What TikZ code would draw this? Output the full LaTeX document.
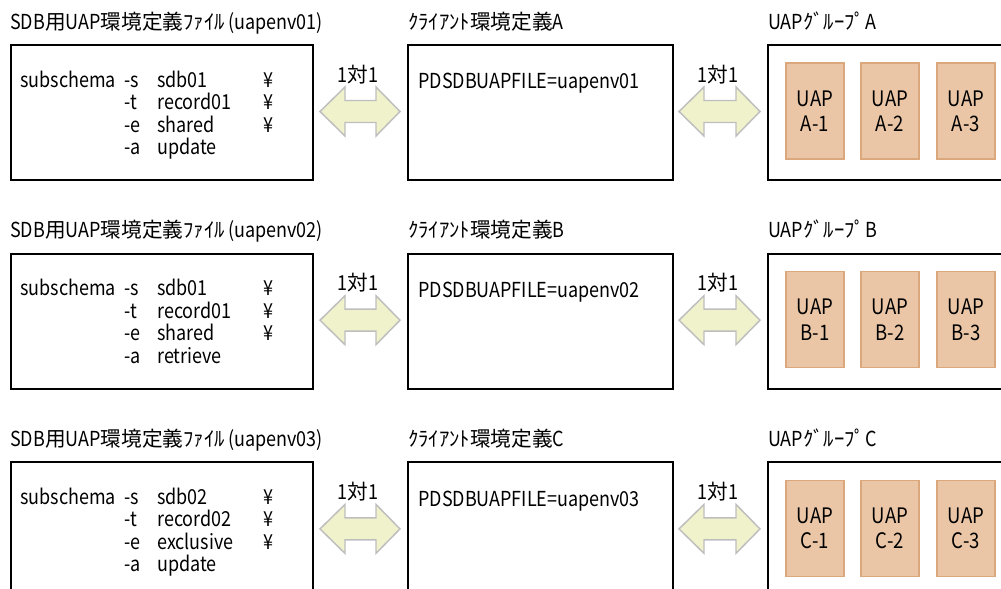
\documentclass[tikz,border=0pt]{standalone}
\usepackage{fontspec}
\setmainfont{Noto Sans CJK JP}
\newfontfamily\lat{Noto Sans CJK JP}[FakeStretch=0.87]
\definecolor{arrowfill}{RGB}{240,242,204}
\definecolor{arrowline}{RGB}{190,190,190}
\definecolor{uapfill}{RGB}{234,198,166}
\definecolor{uapline}{RGB}{218,168,124}
\newcommand\dblarrow[3]{%
  \draw[fat] (#1,#3) -- ({#1+25},{#3-24.5}) -- ({#1+25},{#3-11}) -- ({#2-24},{#3-11}) -- ({#2-24},{#3-24.5}) -- (#2,#3) -- ({#2-24},{#3+24.5}) -- ({#2-24},{#3+11}) -- ({#1+25},{#3+11}) -- ({#1+25},{#3+24.5}) -- cycle;}
\begin{document}
\begin{tikzpicture}[x=0.75pt,y=-0.75pt,
  txt/.style={anchor=base west, inner sep=0pt, font=\fontsize{15.5}{18}\selectfont},
  code/.style={anchor=base west, inner sep=0pt, font=\fontsize{15.5}{18}\selectfont\lat},
  lbl/.style={anchor=base, inner sep=0pt, font=\fontsize{15.5}{18}\selectfont},
  frame/.style={draw=black, line width=1.5pt, anchor=north west, minimum height=101.25pt},
  fat/.style={draw=arrowline, fill=arrowfill, line width=1.1pt, line join=miter},
  uap/.style={draw=uapline, fill=uapfill, line width=1.1pt, minimum width=43.5pt, minimum height=72pt, align=center, inner sep=0pt, font=\fontsize{16}{19}\selectfont\lat}]
\useasboundingbox (0,0) rectangle (1001,589);
\clip (0,0) rectangle (1001,589);
\foreach \k/\dy/\db/\rc/\ex/\ac/\num in {A/0/sdb01/record01/shared/update/01, B/208.7/sdb01/record01/shared/retrieve/02, C/417.4/sdb02/record02/exclusive/update/03}{
  % titles
  \node[txt] (tL\k) at (10,{29+\dy}) {{\lat SDB}用{\lat UAP}環境定義ﾌｧｲﾙ{\lat\,(uapenv\num)}};
  \node[txt] (tM\k) at (408,{29+\dy}) {ｸﾗｲｱﾝﾄ環境定義{\lat\k}};
  \node[txt] (tR\k) at (768,{29+\dy}) {{\lat UAP}ｸﾞﾙｰﾌﾟ{\lat\k}};
  % boxes
  \node[frame, minimum width=226.5pt] (L\k) at (10,{44+\dy}) {};
  \node[frame, minimum width=198.75pt] (M\k) at (407,{44+\dy}) {};
  \node[frame, minimum width=240pt] (R\k) at (767,{44+\dy}) {};
  % code
  \node[code] (c1\k) at (20,{87+\dy}) {subschema};
  \node[code] (s\k) at (124,{87+\dy}) {-s};
  \node[code] (sv\k) at (157,{87+\dy}) {\db};
  \node[code] (t\k) at (124,{109.5+\dy}) {-t};
  \node[code] (tv\k) at (157,{109.5+\dy}) {\rc};
  \node[code] (e\k) at (124,{132+\dy}) {-e};
  \node[code] (ev\k) at (157,{132+\dy}) {\ex};
  \node[code] (a\k) at (124,{154.5+\dy}) {-a};
  \node[code] (av\k) at (157,{154.5+\dy}) {\ac};
  \node[code] (y1\k) at (263,{87+\dy}) {¥};
  \node[code] (y2\k) at (263,{109.5+\dy}) {¥};
  \node[code] (y3\k) at (263,{132+\dy}) {¥};
  \node[code] (p\k) at (418,{89+\dy}) {PDSDBUAPFILE=uapenv\num};
  % arrows
  \dblarrow{320}{400}{111.5+\dy}
  \dblarrow{679}{760}{111.5+\dy}
  \node[lbl] (o1\k) at (358,{82+\dy}) {{\lat 1}対{\lat 1}};
  \node[lbl] (o2\k) at (718,{82+\dy}) {{\lat 1}対{\lat 1}};
  % UAPs
  \node[uap] (u1\k) at (815,{111+\dy}) {UAP\\\k-1};
  \node[uap] (u2\k) at (890,{111+\dy}) {UAP\\\k-2};
  \node[uap] (u3\k) at (966,{111+\dy}) {UAP\\\k-3};
}
\end{tikzpicture}
\end{document}
